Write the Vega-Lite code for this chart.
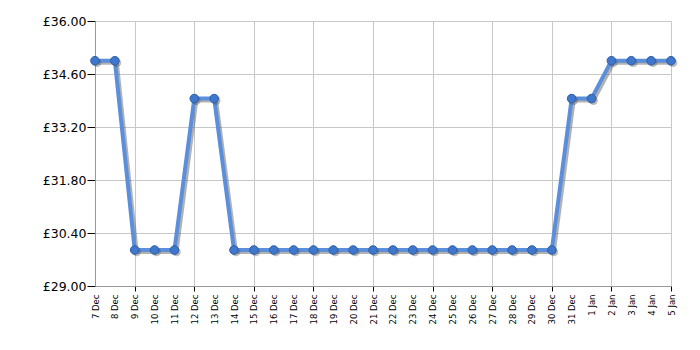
{
  "$schema": "https://vega.github.io/schema/vega-lite/v6.json",
  "width": 576,
  "height": 265,
  "autosize": {"type": "none"},
  "padding": {"left": 95, "top": 21, "right": 29, "bottom": 64},
  "background": "white",
  "config": {
    "view": {"stroke": null},
    "font": "DejaVu Sans"
  },
  "data": {
    "values": [
      {"date": "7 Dec", "price": 34.95},
      {"date": "8 Dec", "price": 34.95},
      {"date": "9 Dec", "price": 29.95},
      {"date": "10 Dec", "price": 29.95},
      {"date": "11 Dec", "price": 29.95},
      {"date": "12 Dec", "price": 33.95},
      {"date": "13 Dec", "price": 33.95},
      {"date": "14 Dec", "price": 29.95},
      {"date": "15 Dec", "price": 29.95},
      {"date": "16 Dec", "price": 29.95},
      {"date": "17 Dec", "price": 29.95},
      {"date": "18 Dec", "price": 29.95},
      {"date": "19 Dec", "price": 29.95},
      {"date": "20 Dec", "price": 29.95},
      {"date": "21 Dec", "price": 29.95},
      {"date": "22 Dec", "price": 29.95},
      {"date": "23 Dec", "price": 29.95},
      {"date": "24 Dec", "price": 29.95},
      {"date": "25 Dec", "price": 29.95},
      {"date": "26 Dec", "price": 29.95},
      {"date": "27 Dec", "price": 29.95},
      {"date": "28 Dec", "price": 29.95},
      {"date": "29 Dec", "price": 29.95},
      {"date": "30 Dec", "price": 29.95},
      {"date": "31 Dec", "price": 33.95},
      {"date": "1 Jan", "price": 33.95},
      {"date": "2 Jan", "price": 34.95},
      {"date": "3 Jan", "price": 34.95},
      {"date": "4 Jan", "price": 34.95},
      {"date": "5 Jan", "price": 34.95}
    ]
  },
  "encoding": {
    "x": {
      "field": "date",
      "type": "ordinal",
      "sort": null,
      "scale": {"type": "point", "padding": 0},
      "axis": {
        "title": null,
        "labelAngle": 270,
        "labelFontSize": 8.5,
        "labelColor": "#000000",
        "labelPadding": 3,
        "tickSize": 5,
        "tickColor": "#000000",
        "tickOpacity": {"condition": {"test": "indexof(['9 Dec','12 Dec','15 Dec','18 Dec','21 Dec','24 Dec','27 Dec','30 Dec','2 Jan','5 Jan'], datum.value) >= 0", "value": 1}, "value": 0},
        "grid": true,
        "gridColor": "#c8c8c8",
        "gridOpacity": {"condition": {"test": "indexof(['9 Dec','12 Dec','15 Dec','18 Dec','21 Dec','24 Dec','27 Dec','30 Dec','2 Jan','5 Jan'], datum.value) >= 0", "value": 1}, "value": 0},
        "domainColor": "#999999"
      }
    },
    "y": {
      "field": "price",
      "type": "quantitative",
      "scale": {"domain": [29, 36], "nice": false, "zero": false},
      "axis": {
        "title": null,
        "values": [29, 30.4, 31.8, 33.2, 34.6, 36],
        "labelExpr": "'£' + format(datum.value, '.2f')",
        "labelFontSize": 12.5,
        "labelColor": "#000000",
        "labelPadding": 1,
        "tickSize": 8,
        "tickColor": "#000000",
        "grid": true,
        "gridColor": "#c8c8c8",
        "domainColor": "#999999"
      }
    }
  },
  "layer": [
    {
      "mark": {"type": "line", "color": "#555555", "opacity": 0.45, "strokeWidth": 4, "xOffset": 2, "yOffset": 2}
    },
    {
      "mark": {"type": "line", "color": "#5b8fdc", "strokeWidth": 4}
    },
    {
      "mark": {"type": "circle", "color": "#555555", "opacity": 0.4, "size": 75, "xOffset": 2, "yOffset": 2}
    },
    {
      "mark": {"type": "circle", "fill": "#3f77cc", "stroke": "#2d5ea8", "strokeWidth": 1, "opacity": 1, "size": 75}
    }
  ]
}
